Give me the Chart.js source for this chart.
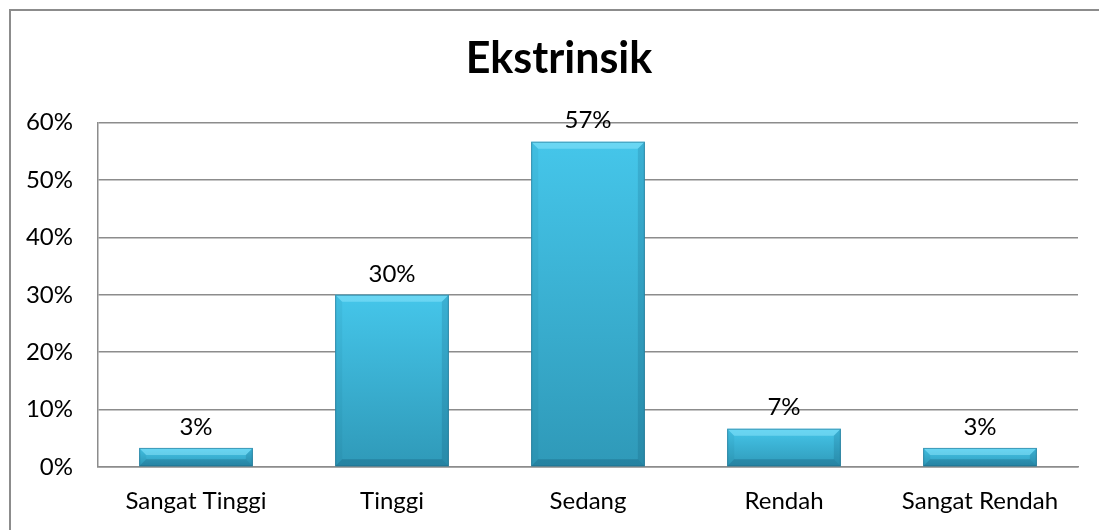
<!DOCTYPE html>
<html>
<head>
<meta charset="utf-8">
<title>Ekstrinsik</title>
<script src="https://cdn.jsdelivr.net/npm/chart.js@4/dist/chart.umd.min.js"></script>
<style>
    body { margin: 0; background: #fff; }
    #wrap { position: relative; width: 1099px; height: 530px; overflow: hidden; }
    #frame { position: absolute; left: 9px; top: 9px; width: 1200px; height: 600px;
             border-top: 2px solid #8c8c8c; border-left: 2px solid #8c8c8c; }
    #myChart { position: absolute; left: 0; top: 0; }
</style>
</head>
<body>
<div id="wrap">
    <div id="frame"></div>
    <canvas id="myChart" width="1099" height="530"></canvas>
</div>
<script>
// data (30 respondents -> 1, 9, 17, 2, 1)
var categories = ['Sangat Tinggi', 'Tinggi', 'Sedang', 'Rendah', 'Sangat Rendah'];
var percentValues = [3.33, 30, 56.67, 6.67, 3.33];
var yTicks = [0, 10, 20, 30, 40, 50, 60];
var chartTitle = 'Ekstrinsik';

var gridColor = '#8c8c8c';
var fontName = 'Lato';

// gradient per bar, top of the bar lighter than the base
function barFill(c) {
    var chart = c.chart;
    var ys = chart.scales.y;
    if (!ys || c.raw == null) return '#3bb8dc';
    var top = ys.getPixelForValue(c.raw);
    var bottom = ys.getPixelForValue(0);
    if (!isFinite(top) || !isFinite(bottom) || top == bottom) return '#3bb8dc';
    var g = chart.ctx.createLinearGradient(0, top, 0, bottom);
    g.addColorStop(0, '#45c6ea');
    g.addColorStop(1, '#2f99b8');
    return g;
}

// title sits a bit right of the plot centre in the original
var titleShift = {
    id: 'titleShift',
    afterLayout: function (chart) {
        if (chart.titleBlock) chart.titleBlock.left += 30;
    }
};

// bevel edges like the office chart
var bevelPlugin = {
    id: 'bevel',
    afterDatasetsDraw: function (chart) {
        var ctx = chart.ctx;
        var meta = chart.getDatasetMeta(0);
        ctx.save();
        meta.data.forEach(function (bar) {
            var p = bar.getProps(['x', 'y', 'base', 'width'], true);
            var l = p.x - p.width / 2, r = p.x + p.width / 2;
            var t = p.y, b = p.base;
            var d = Math.min(7, (b - t) / 2);
            // top
            ctx.fillStyle = 'rgba(150,235,255,0.45)';
            ctx.beginPath();
            ctx.moveTo(l, t); ctx.lineTo(r, t); ctx.lineTo(r - d, t + d); ctx.lineTo(l + d, t + d);
            ctx.closePath(); ctx.fill();
            // left
            ctx.fillStyle = 'rgba(0,60,90,0.06)';
            ctx.beginPath();
            ctx.moveTo(l, t); ctx.lineTo(l + d, t + d); ctx.lineTo(l + d, b - d); ctx.lineTo(l, b);
            ctx.closePath(); ctx.fill();
            // right
            ctx.fillStyle = 'rgba(0,50,80,0.14)';
            ctx.beginPath();
            ctx.moveTo(r, t); ctx.lineTo(r - d, t + d); ctx.lineTo(r - d, b - d); ctx.lineTo(r, b);
            ctx.closePath(); ctx.fill();
            // bottom
            ctx.fillStyle = 'rgba(0,40,70,0.2)';
            ctx.beginPath();
            ctx.moveTo(l, b); ctx.lineTo(r, b); ctx.lineTo(r - d, b - d); ctx.lineTo(l + d, b - d);
            ctx.closePath(); ctx.fill();
            // outline
            ctx.strokeStyle = 'rgba(30,110,140,0.6)';
            ctx.lineWidth = 1;
            ctx.strokeRect(l + 0.5, t + 0.5, p.width - 1, b - t - 1);
        });
        ctx.restore();
    }
};

// value labels above the bars
var labelPlugin = {
    id: 'valueLabels',
    afterDatasetsDraw: function (chart) {
        var ctx = chart.ctx;
        var meta = chart.getDatasetMeta(0);
        ctx.save();
        ctx.font = '24px ' + fontName;
        ctx.fillStyle = '#000';
        ctx.textAlign = 'center';
        ctx.textBaseline = 'bottom';
        meta.data.forEach(function (bar, i) {
            ctx.fillText(Math.round(percentValues[i]) + '%', bar.x, bar.y - 9);
        });
        ctx.restore();
    }
};

var ctx = document.getElementById('myChart').getContext('2d');
var myChart = new Chart(ctx, {
    type: 'bar',
    data: {
        labels: categories,
        datasets: [{
            label: chartTitle,
            data: percentValues,
            backgroundColor: barFill,
            borderWidth: 0,
            barPercentage: 0.58,
            categoryPercentage: 1
        }]
    },
    options: {
        responsive: false,
        devicePixelRatio: 1,
        animation: false,
        layout: { padding: { left: 10, right: 21, top: 0, bottom: 0 } },
        plugins: {
            legend: { display: false },
            tooltip: { enabled: false },
            title: {
                display: true,
                text: chartTitle,
                color: '#000',
                font: { family: fontName, size: 43, weight: 'bold' },
                padding: { top: 33, bottom: 38 }
            }
        },
        scales: {
            x: {
                grid: { display: false },
                border: { display: true, color: gridColor, width: 1.5 },
                ticks: {
                    color: '#000',
                    font: { family: fontName, size: 24 },
                    padding: 12,
                    maxRotation: 0
                },
                afterFit: function (scale) { scale.height = 63; }
            },
            y: {
                min: 0,
                max: 60,
                afterBuildTicks: function (scale) {
                    scale.ticks = yTicks.map(function (v) { return { value: v }; });
                },
                grid: { color: gridColor, lineWidth: 1.5, drawTicks: false },
                border: { display: true, color: gridColor, width: 1.5 },
                ticks: {
                    color: '#000',
                    font: { family: fontName, size: 24 },
                    padding: 25,
                    callback: function (v) { return v + '%'; }
                },
                afterFit: function (scale) { scale.width = 88; }
            }
        }
    },
    plugins: [titleShift, bevelPlugin, labelPlugin]
});
myChart.update();
</script>
</body>
</html>
